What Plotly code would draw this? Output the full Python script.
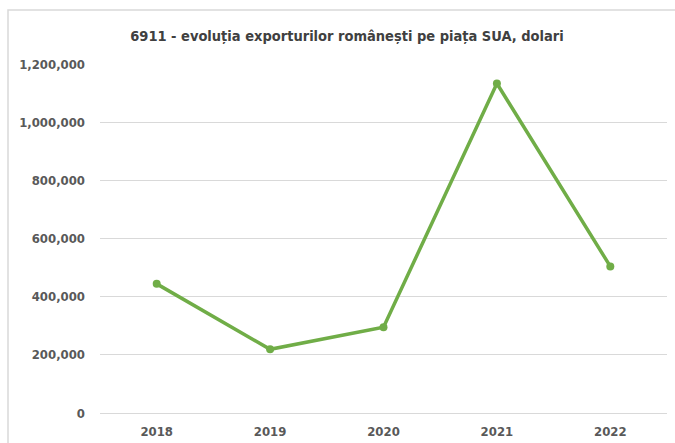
import plotly.graph_objects as go

years = ["2018", "2019", "2020", "2021", "2022"]
exports = [444000, 219000, 295000, 1133000, 504000]
y_ticks = [0, 200000, 400000, 600000, 800000, 1000000, 1200000]
y_tick_labels = ["0", "200,000", "400,000", "600,000", "800,000", "1,000,000", "1,200,000"]
title_text = "6911 - evoluția exporturilor românești pe piața SUA, dolari"

fig = go.Figure()
fig.add_trace(go.Scatter(
    x=years, y=exports, mode="lines+markers",
    line=dict(color="#70ad47", width=3.5),
    marker=dict(color="#70ad47", size=8),
    showlegend=False,
))

FW, FH = 675, 443
L, T, W, H = 100, 64, 567, 349
font_family = "DejaVu Sans Condensed"
bx0 = (8 - L) / W
bx1 = (FW + 20 - L) / W
by0 = -0.3
by1 = (T + H - 10) / H
fig.update_layout(
    width=FW, height=FH,
    margin=dict(l=L, r=FW - L - W, t=T, b=FH - T - H, autoexpand=False),
    paper_bgcolor="white", plot_bgcolor="white",
    title=dict(text=title_text, x=347/FW, xanchor="center",
               y=1 - 36/FH, yanchor="middle",
               font=dict(family=font_family, size=14.5, color="#404040", weight=600)),
    xaxis=dict(showgrid=False, showline=False, zeroline=False, ticks="",
               range=[-0.5, 4.5], automargin=False,
               tickfont=dict(family=font_family, size=13, color="#595959", weight=600),
               ticklabelstandoff=9),
    yaxis=dict(range=[0, 1200000], tickvals=y_ticks, ticktext=y_tick_labels,
               showgrid=True, gridcolor="#d9d9d9", gridwidth=1,
               zeroline=True, zerolinecolor="#d9d9d9", zerolinewidth=1,
               showline=False, ticks="", automargin=False,
               tickfont=dict(family=font_family, size=13, color="#595959", weight=600),
               ticklabelstandoff=14),
    shapes=[dict(type="path", xref="paper", yref="paper",
                 path=f"M {bx0},{by0} L {bx0},{by1} L {bx1},{by1}",
                 line=dict(color="#d9d9d9", width=1.5), layer="below")],
)

fig.write_html("out.html",
               config={"displayModeBar": False},
               post_script="document.body.style.margin='0';document.body.style.overflow='hidden';")
